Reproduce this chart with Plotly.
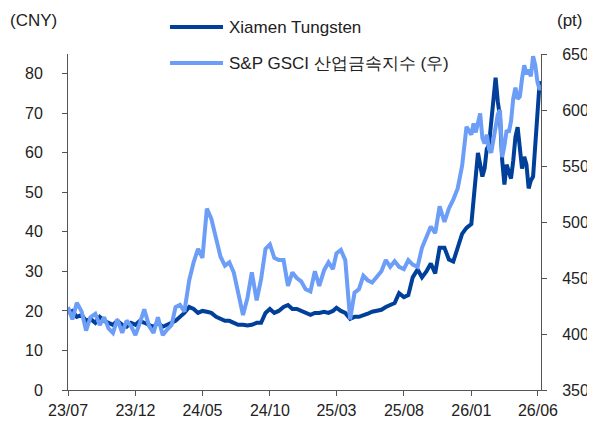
import plotly.graph_objects as go

# ---- data ----
months_early = [(y, m) for y in (2023, 2024, 2025) for m in range(1, 13)
                if (y, m) >= (2023, 7)]
dates_early = [f"{y}-{m:02d}-{d:02d}" for (y, m) in months_early for d in (1, 11, 21)]
dates_2026 = ["2026-01-01", "2026-01-06", "2026-01-11", "2026-01-16", "2026-01-21",
              "2026-01-26", "2026-01-31", "2026-02-05", "2026-02-10", "2026-02-15",
              "2026-02-20", "2026-02-25", "2026-03-02", "2026-03-07", "2026-03-12",
              "2026-03-17", "2026-03-22", "2026-03-27", "2026-04-01", "2026-04-06",
              "2026-04-11", "2026-04-16", "2026-04-21", "2026-04-26", "2026-05-01",
              "2026-05-06", "2026-05-11", "2026-05-16", "2026-05-21", "2026-05-26",
              "2026-05-31", "2026-06-05", "2026-06-08"]
dates = dates_early + dates_2026

xiamen_tungsten = [
    19.5, 20, 18.5, 19, 17.5, 18, 17, 18.5, 17.5, 17, 16.5, 17.5,
    16.5, 16, 17, 16.5, 17.5, 17, 16.5, 16, 17, 16, 16.5, 17,
    17.5, 18.5, 19.5, 21, 20.5, 19.5, 20, 19.8, 19.5, 18.5, 18, 17.5,
    17.5, 17, 16.5, 16.5, 16.3, 16.5, 17, 17, 19.5, 20.5, 19.5, 20,
    21, 21.5, 20.5, 20.5, 20, 19.5, 19, 19.5, 19.5, 19.8, 19.5, 20,
    20.8, 20, 19.5, 18, 18.5, 18.5, 18.8, 19.3, 19.8, 20, 20.3, 21,
    21.5, 22, 24.5, 23.5, 24, 28.5, 30.5, 28.5, 30, 32, 29.5, 36,
    36, 33, 32.5, 36, 39.5, 41,
    42, 48, 54, 60, 57, 54, 56, 61, 62, 68, 72, 79, 73, 69, 58, 52,
    57, 55, 53.5, 58, 64, 66.5, 61, 56, 59, 57, 51, 53, 54, 62, 71, 78, 77]

sp_gsci_metals = [
    424, 413, 428, 420, 403, 415, 418, 408, 415, 405, 401, 413,
    401, 412, 407, 399, 410, 422, 407, 401, 415, 399, 404, 408,
    424, 426, 420, 448, 464, 476, 468, 512, 503, 485, 469, 461,
    464, 455, 435, 417, 432, 455, 430, 449, 476, 480, 468, 466,
    466, 443, 455, 450, 447, 440, 438, 456, 443, 457, 464, 458,
    472, 475, 466, 413, 437, 440, 452, 448, 446, 452, 456, 466,
    460, 465, 460, 458, 466, 462, 460, 477, 487, 496, 490, 514,
    500, 512, 520, 530, 550, 585,
    578, 588, 580, 590, 597, 575, 570, 578, 565, 562, 575, 586, 596, 600, 558, 568,
    582, 580, 590, 610, 620, 610, 612, 628, 640, 632, 636, 630, 648, 640, 625, 618, 622]

x_tickvals = ["2023-07-01", "2023-12-01", "2024-05-01", "2024-10-01", "2025-03-01",
              "2025-08-01", "2026-01-01", "2026-06-01"]
x_ticktext = ["23/07", "23/12", "24/05", "24/10", "25/03", "25/08", "26/01", "26/06"]
left_ticks = [0, 10, 20, 30, 40, 50, 60, 70, 80]
right_ticks = [350, 400, 450, 500, 550, 600, 650]
series_names = ["Xiamen Tungsten", "S&P GSCI 산업금속지수 (우)"]

DARK = "#00409A"
LIGHT = "#6C9DF7"
AXIS = "#555555"
FONT = "Liberation Sans, Arial, sans-serif"

fig = go.Figure()
fig.add_trace(go.Scatter(x=dates, y=xiamen_tungsten, mode="lines", name=series_names[0],
                         line=dict(color=DARK, width=4), yaxis="y", showlegend=False))
fig.add_trace(go.Scatter(x=dates, y=sp_gsci_metals, mode="lines", name=series_names[1],
                         line=dict(color=LIGHT, width=4), yaxis="y2", showlegend=False))

axis_common = dict(showline=True, linecolor=AXIS, linewidth=1, ticks="outside",
                   ticklen=5, tickcolor=AXIS, showgrid=False, zeroline=False,
                   automargin=False,
                   tickfont=dict(family=FONT, size=16, color="#222222"))

# the page body has an 8px margin, so the figure is offset by 8px
fig.update_layout(
    width=587, height=416,
    margin=dict(l=60, r=54, t=46, b=34),
    paper_bgcolor="white", plot_bgcolor="white",
    font=dict(family=FONT, color="#222222"),
    xaxis=dict(type="date", range=["2023-07-01", "2026-06-08"],
               tickmode="array", tickvals=x_tickvals, ticktext=x_ticktext,
               ticklabelstandoff=1, **axis_common),
    yaxis=dict(range=[0, 85], tickmode="array", tickvals=left_ticks,
               ticklabelstandoff=16, **axis_common),
    yaxis2=dict(range=[350, 650], tickmode="array", tickvals=right_ticks,
                overlaying="y", side="right", ticklabelstandoff=12, **axis_common),
    showlegend=False,
)

# legend drawn manually
legend_rows = [(1.080, DARK, series_names[0]), (0.973, LIGHT, series_names[1])]
for yy, col, txt in legend_rows:
    fig.add_shape(type="line", xref="paper", yref="paper", x0=0.2157, x1=0.3277,
                  y0=yy, y1=yy, line=dict(color=col, width=4))
    fig.add_annotation(xref="paper", yref="paper", x=0.336, y=yy, text=txt,
                       showarrow=False, xanchor="left", yanchor="middle",
                       font=dict(family=FONT, size=17, color="#222222"))

fig.add_annotation(xref="paper", yref="paper", x=-0.127, y=1.10, text="(CNY)",
                   showarrow=False, xanchor="left", yanchor="middle",
                   font=dict(family=FONT, size=17, color="#222222"))
fig.add_annotation(xref="paper", yref="paper", x=1.03, y=1.10, text="(pt)",
                   showarrow=False, xanchor="left", yanchor="middle",
                   font=dict(family=FONT, size=17, color="#222222"))

fig.write_html("out.html")
